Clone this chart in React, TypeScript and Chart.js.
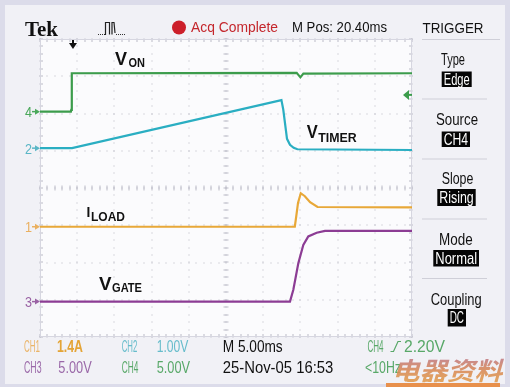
import React, { useEffect, useRef } from "react";
import { Chart, registerables } from "chart.js";
Chart.register(...registerables);

// Time axis in ms (5 ms/div, 10 div), vertical in divisions (-4..4)
const timeMin = 0;
const timeMax = 50;
const divMin = -4;
const divMax = 4;
const xGridTicks = [0, 5, 10, 15, 20, 25, 30, 35, 40, 45, 50];
const yGridTicks = [-4, -3, -2, -1, 0, 1, 2, 3, 4];

// CH4 (V_ON)
const ch4Time = [0, 4.15, 4.2, 4.25, 4.3, 34.5, 35.0, 35.4, 50];
const ch4Div = [2.05, 2.05, 2.1, 2.15, 3.08, 3.09, 2.97, 3.07, 3.08];
// CH2 (V_TIMER)
const ch2Time = [0, 4.3, 32.45, 32.7, 33.2, 33.6, 34.1, 34.6, 50];
const ch2Div = [1.07, 1.07, 2.36, 2.1, 1.32, 1.16, 1.08, 1.04, 1.02];
// CH1 (I_LOAD)
const ch1Time = [0, 34.25, 34.45, 34.68, 35.05, 35.6, 36.3, 37.3, 50];
const ch1Div = [-1.04, -1.04, -0.75, -0.4, -0.14, -0.22, -0.38, -0.51, -0.52];
// CH3 (V_GATE)
const ch3Time = [0, 33.6, 34.05, 34.72, 35.39, 36.06, 37.19, 38.31, 50];
const ch3Div = [-3.05, -3.05, -2.73, -2.02, -1.53, -1.3, -1.2, -1.15, -1.15];

const triggerTime = 4.3;
const triggerLevelDiv = 2.5;

const C_GREEN = "#3c9c4c";
const C_CYAN = "#2aaec2";
const C_ORANGE = "#e8a838";
const C_PURPLE = "#8c3c94";

const SANS = "'Liberation Sans', Arial, sans-serif";

function toPts(t: number[], v: number[]) {
  return t.map((x, i) => ({ x, y: v[i] }));
}

function drawFit(
  ctx: CanvasRenderingContext2D,
  text: string,
  x: number,
  y: number,
  font: string,
  color: string,
  width: number
) {
  ctx.save();
  ctx.font = font;
  ctx.textBaseline = "alphabetic";
  ctx.textAlign = "left";
  const w = ctx.measureText(text).width;
  const s = width / w;
  ctx.translate(x, y);
  ctx.scale(s, 1);
  ctx.fillStyle = color;
  ctx.fillText(text, 0, 0);
  ctx.restore();
}

function drawBox(
  ctx: CanvasRenderingContext2D,
  text: string,
  x0: number,
  y0: number,
  x1: number,
  y1: number
) {
  ctx.save();
  ctx.fillStyle = "#050505";
  ctx.fillRect(x0, y0, x1 - x0, y1 - y0);
  ctx.restore();
  const h = y1 - y0;
  drawFit(ctx, text, x0 + 2, y0 + h * 0.5 + 5.5, `16px ${SANS}`, "#ffffff", x1 - x0 - 4);
}

const backgroundPlugin = {
  id: "scopeBg",
  beforeDraw(chart: any) {
    const ctx: CanvasRenderingContext2D = chart.ctx;
    const W = chart.width;
    const H = chart.height;
    ctx.save();
    ctx.fillStyle = "#dcdcea";
    ctx.fillRect(0, 0, W, H);
    ctx.fillStyle = "#f1f1f6";
    ctx.fillRect(5, 5, W - 10, H - 8);
    const a = chart.chartArea;
    ctx.fillStyle = "#fbfbfd";
    ctx.fillRect(a.left, a.top, a.right - a.left, a.bottom - a.top);
    ctx.restore();
  },
  beforeDatasetsDraw(chart: any) {
    const ctx: CanvasRenderingContext2D = chart.ctx;
    const xs = chart.scales.x;
    const ys = chart.scales.y;
    const a = chart.chartArea;
    const xDiv = (xs.getPixelForValue(5) - xs.getPixelForValue(0)) / 5;
    const yDiv = (ys.getPixelForValue(0) - ys.getPixelForValue(1)) / 5;
    ctx.save();
    ctx.fillStyle = "#b6b6c4";
    // dotted grid
    xGridTicks.forEach((t) => {
      const px = Math.round(xs.getPixelForValue(t));
      for (let y = a.top; y <= a.bottom + 0.5; y += yDiv) {
        ctx.fillRect(px - 0.5, Math.round(y) - 0.5, 1, 1);
      }
    });
    yGridTicks.forEach((d) => {
      const py = Math.round(ys.getPixelForValue(d));
      for (let x = a.left; x <= a.right + 0.5; x += xDiv) {
        ctx.fillRect(Math.round(x) - 0.5, py - 0.5, 1, 1);
      }
    });
    // center crosshair ticks
    const cx = xs.getPixelForValue((timeMin + timeMax) / 2);
    const cy = ys.getPixelForValue(0);
    ctx.fillStyle = "#bcbcc8";
    for (let x = a.left; x <= a.right + 0.5; x += xDiv) {
      ctx.fillRect(Math.round(x) - 0.5, cy - 2.5, 1, 5);
    }
    for (let y = a.top; y <= a.bottom + 0.5; y += yDiv) {
      ctx.fillRect(cx - 2.5, Math.round(y) - 0.5, 5, 1);
    }
    // border ticks
    for (let x = a.left; x <= a.right + 0.5; x += xDiv) {
      ctx.fillRect(Math.round(x) - 0.5, a.top, 1, 3);
      ctx.fillRect(Math.round(x) - 0.5, a.bottom - 3, 1, 3);
    }
    for (let y = a.top; y <= a.bottom + 0.5; y += yDiv) {
      ctx.fillRect(a.left, Math.round(y) - 0.5, 3, 1);
      ctx.fillRect(a.right - 3, Math.round(y) - 0.5, 3, 1);
    }
    ctx.strokeStyle = "#d6d6e0";
    ctx.lineWidth = 1;
    ctx.strokeRect(a.left + 0.5, a.top + 0.5, a.right - a.left - 1, a.bottom - a.top - 1);
    ctx.restore();
  },
  afterDatasetsDraw(chart: any) {
    const ctx: CanvasRenderingContext2D = chart.ctx;
    const xs = chart.scales.x;
    const ys = chart.scales.y;
    const a = chart.chartArea;

    // channel ground markers
    const markers: [string, number, string][] = [
      ["4", ch4Div[0], "#4aa85a"],
      ["2", ch2Div[0], "#5ab6c6"],
      ["1", ch1Div[0], "#eab060"],
      ["3", ch3Div[0], "#9a62a4"],
    ];
    markers.forEach(([lab, d, col]) => {
      const py = ys.getPixelForValue(d);
      drawFit(ctx, lab, 25, py + 5.5, `15px ${SANS}`, col, 7);
      ctx.save();
      ctx.strokeStyle = col;
      ctx.fillStyle = col;
      ctx.lineWidth = 1.5;
      ctx.beginPath();
      ctx.moveTo(32, py);
      ctx.lineTo(38, py);
      ctx.stroke();
      ctx.beginPath();
      ctx.moveTo(40, py);
      ctx.lineTo(35, py - 3);
      ctx.lineTo(35, py + 3);
      ctx.closePath();
      ctx.fill();
      ctx.restore();
    });

    // trigger time arrow (top)
    const tx = xs.getPixelForValue(triggerTime) + 1;
    ctx.save();
    ctx.fillStyle = "#111";
    ctx.fillRect(tx - 1, a.top + 1, 2, 4);
    ctx.beginPath();
    ctx.moveTo(tx - 4, a.top + 4);
    ctx.lineTo(tx + 4, a.top + 4);
    ctx.lineTo(tx, a.top + 10);
    ctx.closePath();
    ctx.fill();
    // trigger level arrow (right)
    const ty = ys.getPixelForValue(triggerLevelDiv);
    ctx.fillStyle = C_GREEN;
    ctx.beginPath();
    ctx.moveTo(a.right - 9, ty);
    ctx.lineTo(a.right - 3, ty - 5);
    ctx.lineTo(a.right - 3, ty + 5);
    ctx.closePath();
    ctx.fill();
    ctx.fillRect(a.right - 4, ty - 1, 4, 2);
    ctx.restore();

    // waveform labels
    const bold = (px: number) => `bold ${px}px ${SANS}`;
    drawFit(ctx, "V", 115, 65, bold(18), "#111", 12);
    drawFit(ctx, "ON", 128.5, 66.7, bold(12), "#111", 16.5);
    drawFit(ctx, "V", 306.7, 138.3, bold(18), "#111", 11);
    drawFit(ctx, "TIMER", 318.3, 141.7, bold(13), "#111", 38.4);
    drawFit(ctx, "I", 86.5, 217.3, bold(15), "#111", 3.8);
    drawFit(ctx, "LOAD", 91, 220.7, bold(12.5), "#111", 34);
    drawFit(ctx, "V", 99, 290, bold(18), "#111", 12.5);
    drawFit(ctx, "GATE", 112, 292.3, bold(12.5), "#111", 30);

    // header
    drawFit(ctx, "Tek", 25, 35.5, `bold 20px 'Liberation Serif', serif`, "#111", 33);
    // pulse icon
    ctx.save();
    ctx.strokeStyle = "#222";
    ctx.lineWidth = 1.2;
    ctx.fillStyle = "#333";
    for (let x = 98; x <= 103; x += 2) ctx.fillRect(x, 34, 1, 1);
    ctx.beginPath();
    ctx.moveTo(104, 34.5);
    ctx.lineTo(105.5, 34.5);
    ctx.lineTo(105.5, 22.5);
    ctx.lineTo(109.5, 22.5);
    ctx.lineTo(109.5, 34.5);
    ctx.moveTo(112, 34.5);
    ctx.lineTo(112, 22.5);
    ctx.lineTo(114, 22.5);
    ctx.lineTo(115, 33);
    ctx.stroke();
    for (let x = 116; x <= 124; x += 2) ctx.fillRect(x, 34, 1, 1);
    ctx.restore();
    // red dot
    ctx.save();
    ctx.fillStyle = "#cc1f2a";
    ctx.beginPath();
    ctx.arc(179, 27.5, 7, 0, Math.PI * 2);
    ctx.fill();
    ctx.restore();
    drawFit(ctx, "Acq Complete", 191, 32, `14px ${SANS}`, "#c4262c", 87);
    drawFit(ctx, "M Pos: 20.40ms", 292, 32, `14px ${SANS}`, "#111", 95);
    drawFit(ctx, "TRIGGER", 422.5, 32.5, `14px ${SANS}`, "#111", 61);

    // right menu panel
    ctx.save();
    ctx.strokeStyle = "#cfcfd8";
    ctx.lineWidth = 1;
    [39, 98.5, 158.5, 218.5, 278].forEach((y) => {
      ctx.beginPath();
      ctx.moveTo(422, y + 0.5);
      ctx.lineTo(y === 39 ? 500 : 487, y + 0.5);
      ctx.stroke();
    });
    ctx.restore();
    const lab = `16px ${SANS}`;
    drawFit(ctx, "Type", 441, 64.5, lab, "#111", 24);
    drawBox(ctx, "Edge", 441.7, 71.5, 471.7, 87);
    drawFit(ctx, "Source", 436, 125, lab, "#111", 42);
    drawBox(ctx, "CH4", 441.7, 131.5, 470, 147);
    drawFit(ctx, "Slope", 441.7, 183.5, lab, "#111", 31.6);
    drawBox(ctx, "Rising", 437.3, 189, 475.7, 206);
    drawFit(ctx, "Mode", 439, 245, lab, "#111", 33.7);
    drawBox(ctx, "Normal", 433.3, 250, 479, 266.5);
    drawFit(ctx, "Coupling", 430.7, 304.5, lab, "#111", 51);
    drawBox(ctx, "DC", 447.7, 309, 466, 326.5);

    // bottom status readouts
    const st = `16px ${SANS}`;
    const stb = `bold 16px ${SANS}`;
    drawFit(ctx, "CH1", 24, 352, st, "#eab468", 16);
    drawFit(ctx, "1.4A", 57, 352, stb, "#e4a436", 26);
    drawFit(ctx, "CH2", 121.7, 352, st, "#66bccb", 15.6);
    drawFit(ctx, "1.00V", 156.7, 352, st, "#66bccb", 31.6);
    drawFit(ctx, "M 5.00ms", 222.7, 352, st, "#111", 60);
    drawFit(ctx, "CH4", 367.5, 352, st, "#58a868", 16);
    ctx.save();
    ctx.strokeStyle = "#58a868";
    ctx.lineWidth = 1.2;
    ctx.beginPath();
    ctx.moveTo(390.5, 351.5);
    ctx.lineTo(393.5, 351.5);
    ctx.lineTo(398, 341.5);
    ctx.lineTo(401, 341.5);
    ctx.stroke();
    ctx.restore();
    drawFit(ctx, "2.20V", 404, 352, st, "#58a868", 41);

    drawFit(ctx, "CH3", 24, 373, st, "#9a68a8", 17.5);
    drawFit(ctx, "5.00V", 58.3, 373, st, "#9a68a8", 33.4);
    drawFit(ctx, "CH4", 121.7, 373, st, "#58a868", 16.6);
    drawFit(ctx, "5.00V", 156.7, 373, st, "#58a868", 33.3);
    drawFit(ctx, "25-Nov-05 16:53", 222.7, 373, st, "#111", 110.6);
    drawFit(ctx, "<10Hz", 365, 373, st, "#58a868", 36);

    // watermark
    ctx.save();
    ctx.fillStyle = "#e8904c";
    ctx.fillRect(386, 383, 114, 4);
    ctx.translate(392, 380);
    ctx.transform(1, 0, -0.28, 1, 0, 0);
    const grad = ctx.createLinearGradient(0, -26, 0, 0);
    grad.addColorStop(0, "#b87898");
    grad.addColorStop(0.6, "#d88a5a");
    grad.addColorStop(1, "#e09a50");
    ctx.font = `bold 25px 'Noto Sans CJK SC', sans-serif`;
    const w = ctx.measureText("电器资料").width;
    ctx.scale(110 / w, 1);
    ctx.fillStyle = grad;
    ctx.globalAlpha = 0.9;
    ctx.fillText("电器资料", 0, 0);
    ctx.restore();
  },
};

export default function App() {
  const ref = useRef<HTMLCanvasElement | null>(null);
  useEffect(() => {
    document.body.style.margin = "0";
    const canvas = ref.current;
    if (!canvas) return;
    const mk = (t: number[], v: number[], color: string) => ({
      data: toPts(t, v),
      borderColor: color,
      backgroundColor: color,
      borderWidth: 2.2,
      pointRadius: 0,
      tension: 0,
      fill: false,
    });
    const chart = new Chart(canvas, {
      type: "line",
      data: {
        datasets: [
          mk(ch4Time, ch4Div, C_GREEN),
          mk(ch2Time, ch2Div, C_CYAN),
          mk(ch1Time, ch1Div, C_ORANGE),
          mk(ch3Time, ch3Div, C_PURPLE),
        ],
      },
      options: {
        animation: false,
        responsive: false,
        devicePixelRatio: 1,
        layout: { padding: { left: 40, right: 98, top: 39, bottom: 50 } },
        plugins: { legend: { display: false }, tooltip: { enabled: false } },
        scales: {
          x: { type: "linear", min: timeMin, max: timeMax, display: false },
          y: { type: "linear", min: divMin, max: divMax, display: false },
        },
      },
      plugins: [backgroundPlugin],
    } as any);
    return () => chart.destroy();
  }, []);
  return (
    <div style={{ position: "absolute", left: 0, top: 0, width: 510, height: 387 }}>
      <canvas ref={ref} width={510} height={387} style={{ width: 510, height: 387, display: "block" }} />
    </div>
  );
}
